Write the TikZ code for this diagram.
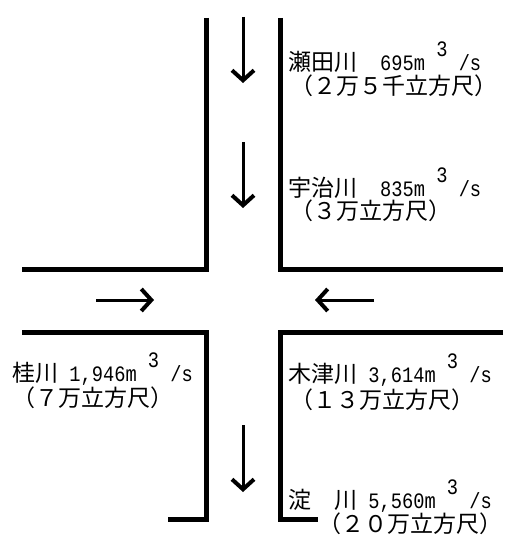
\documentclass[tikz,border=0pt]{standalone}
\usepackage{fontspec}
\setmainfont{Noto Sans CJK JP}
\newfontfamily\numfont[FakeStretch=0.85]{Liberation Mono}
\usetikzlibrary{arrows.meta}
\newcommand{\flowrate}[1]{{\numfont\fontsize{22pt}{22pt}\selectfont #1m~\raisebox{.62em}{3}~/s}}

\begin{document}
\begin{tikzpicture}[x=1pt,y=-1pt,
    wall/.style={line width=5pt,line cap=butt,line join=miter},
    flow/.style={-{Straight Barb[length=10pt,width=22pt,line width=4pt]},line width=3pt},
    lbl/.style={anchor=west,inner sep=0pt,font=\fontsize{23pt}{23pt}\selectfont}]
  \useasboundingbox (0,0) rectangle (507,535);
  % river banks
  \draw[wall] (206,18) -- (206,269) -- (22,269);
  \draw[wall] (280,18) -- (280,269) -- (503,269);
  \draw[wall] (22,332) -- (206,332) -- (206,519) -- (168,519);
  \draw[wall] (503,332) -- (280,332) -- (280,519) -- (318,519);
  % flow directions
  \coordinate (setaS) at (243,17);  \coordinate (setaE) at (243,83);
  \coordinate (ujiS)  at (243,142); \coordinate (ujiE)  at (243,208);
  \coordinate (katS)  at (96,300);  \coordinate (katE)  at (154,300);
  \coordinate (kizS)  at (374,300); \coordinate (kizE)  at (315,300);
  \coordinate (yodS)  at (243,425); \coordinate (yodE)  at (243,492);
  \draw[flow] (setaS) -- (setaE);
  \draw[flow] (ujiS) -- (ujiE);
  \draw[flow] (katS) -- (katE);
  \draw[flow] (kizS) -- (kizE);
  \draw[flow] (yodS) -- (yodE);
  % discharges
  \node[lbl] (seta1) at (288,57)  {瀬田川　\flowrate{695}};
  \node[lbl] (seta2) at (290,86)  {（２万５千立方尺）};
  \node[lbl] (uji1)  at (288,183) {宇治川　\flowrate{835}};
  \node[lbl] (uji2)  at (290,211) {（３万立方尺）};
  \node[lbl] (kat1)  at (12,369)  {桂川\flowrate{~1,946}};
  \node[lbl] (kat2)  at (12,398)  {（７万立方尺）};
  \node[lbl] (kiz1)  at (288,370) {木津川\flowrate{~3,614}};
  \node[lbl] (kiz2)  at (290,400) {（１３万立方尺）};
  \node[lbl] (yod1)  at (288,496) {淀　川\flowrate{~5,560}};
  \node[lbl] (yod2)  at (318,524) {（２０万立方尺）};
\end{tikzpicture}
\end{document}
